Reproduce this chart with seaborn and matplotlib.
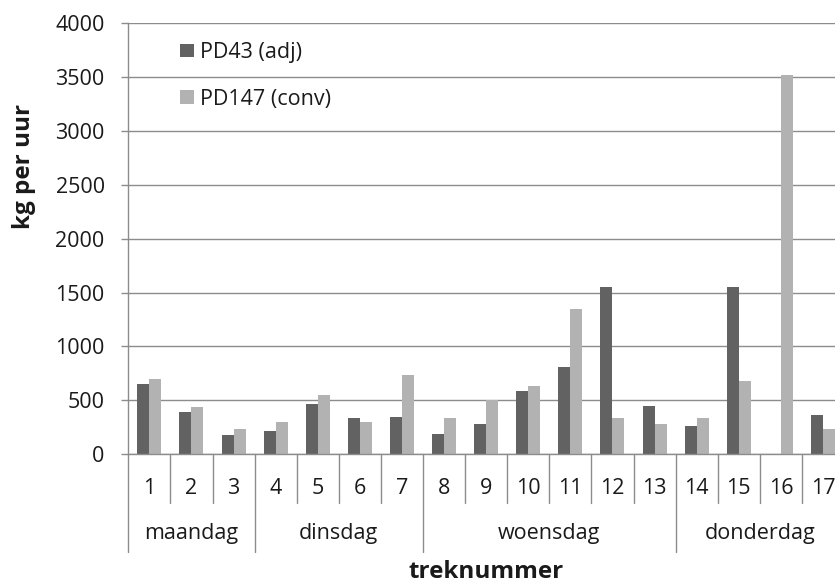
import matplotlib
matplotlib.use("Agg")
import matplotlib.pyplot as plt
import seaborn as sns
import pandas as pd
from matplotlib.patches import Patch

treks = [str(i) for i in range(1, 18)]
days = ["maandag", "dinsdag", "woensdag", "donderdag"]
day_counts = [3, 4, 6, 4]
pd43 = [656, 390, 179, 213, 470, 337, 350, 192, 278, 591, 814, 1550, 445, 260, 1550, 0, 368]
pd147 = [702, 436, 235, 303, 548, 303, 736, 337, 501, 634, 1346, 337, 278, 337, 680, 3517, 232]
series = ["PD43 (adj)", "PD147 (conv)"]
colors = ["#626262", "#b2b2b2"]

df = pd.DataFrame({
    "trek": treks * 2,
    "value": pd43 + pd147,
    "serie": [series[0]] * len(treks) + [series[1]] * len(treks),
})

sns.set_theme(style="white")
plt.rcParams['font.family'] = ['Open Sans', 'DejaVu Sans']

FS = 15.5
TXT = "#1a1a1a"
GRID = "#8c8c8c"

W, H = 835, 586
fig = plt.figure(figsize=(W / 100, H / 100), dpi=100)
left, right, top, bottom = 128.3, 844.0, 23.0, 454.3
ax = fig.add_axes([left / W, 1 - bottom / H, (right - left) / W, (bottom - top) / H])

sns.barplot(data=df, x="trek", y="value", hue="serie", order=treks, hue_order=series,
            palette=colors, width=0.57, saturation=1, ax=ax, legend=False, linewidth=0)

ax.set_ylim(0, 4000)
ax.set_xlim(-0.5, 16.5)
ax.set_yticks(range(0, 4001, 500))
ax.yaxis.grid(True, color=GRID, linewidth=1.0)
ax.set_axisbelow(True)
for s in ["top", "right"]:
    ax.spines[s].set_visible(False)
for s in ["left", "bottom"]:
    ax.spines[s].set_color(GRID)
    ax.spines[s].set_linewidth(1.0)
ax.tick_params(axis="y", which="both", left=True, length=5, width=1.0, color=GRID,
               pad=12, labelsize=FS, labelcolor=TXT)
ax.tick_params(axis="x", bottom=False, labelbottom=False)
ax.set_xlabel("")
ax.set_ylabel("")

trans = ax.get_xaxis_transform()
def fy(px):
    return (bottom - px) / (bottom - top)

for i, t in enumerate(treks):
    ax.text(i, fy(488), t, ha="center", va="center", fontsize=FS, color=TXT,
            transform=trans, clip_on=False)

bounds = [0]
for c in day_counts:
    bounds.append(bounds[-1] + c)
for i in range(len(treks) + 1):
    x = i - 0.5
    y1 = fy(552) if i in bounds else fy(503)
    ax.plot([x, x], [0, y1], color=GRID, linewidth=1.0, transform=trans, clip_on=False)

for d, a, b in zip(days, bounds[:-1], bounds[1:]):
    ax.text((a + b - 1) / 2, fy(533), d, ha="center", va="center", fontsize=FS,
            color=TXT, transform=trans, clip_on=False)

fig.text((left + right) / 2 / W, 1 - 578 / H, "treknummer", ha="center", va="baseline",
         fontsize=17.5, fontweight="bold", color=TXT)
fig.text(24 / W, 1 - 166 / H, "kg per uur", ha="center", va="center", rotation=90,
         fontsize=17.5, fontweight="bold", color=TXT)

handles = [Patch(facecolor=c, edgecolor="none", label=s) for c, s in zip(colors, series)]
leg = ax.legend(handles=handles, loc="upper left", bbox_to_anchor=(180 / W, 1 - 42 / H),
                bbox_transform=fig.transFigure, frameon=False, fontsize=FS,
                handlelength=0.65, handleheight=0.56, handletextpad=0.28,
                labelspacing=1.19, borderpad=0, borderaxespad=0)
for t in leg.get_texts():
    t.set_color(TXT)

fig.savefig("out.png", dpi=100)
